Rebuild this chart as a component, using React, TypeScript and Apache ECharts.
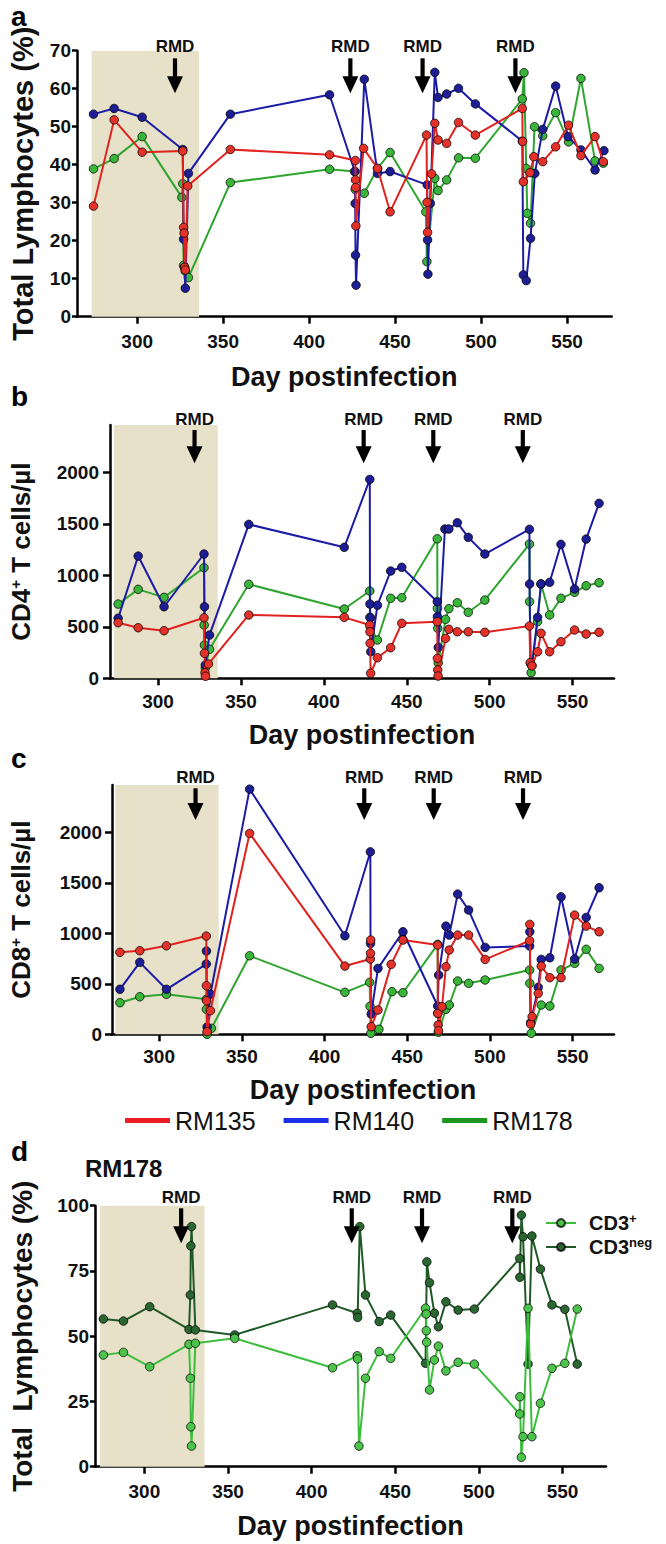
import React, { useEffect, useRef } from "react";
import * as echarts from "echarts";

type Pt = [number, number];

const FONT = "'Liberation Sans', Arial, Helvetica, sans-serif";

// ---------- tick values / annotations ----------
const xTickDays = [300, 350, 400, 450, 500, 550];
const cellTicks = [0, 500, 1000, 1500, 2000];
const rmdDays = [322, 424, 466, 520];
const shadeDays = [273.5, 336];
const animalNames = ["RM135", "RM140", "RM178"];
const cd3Names = ["CD3+", "CD3neg"];

// ---------- panel a: Total lymphocytes (%) ----------
const aRM135: Pt[] = [
  [274.6, 29.1], [286.6, 51.8], [302.9, 43.3], [326.5, 43.6], [327, 23.5], [327.3, 22], [327.6, 13], [328, 12.3],
  [329.4, 34.4], [354.2, 44], [411.9, 42.6], [426.9, 41.1], [427, 36], [427.1, 34], [427.2, 23.9], [431.7, 44.3],
  [439.8, 39], [447.1, 27.6], [468.3, 47.8], [468.6, 30.1], [468.9, 22.2], [471.2, 37.6], [473.1, 50.9], [475, 46.5],
  [480, 45.6], [486.9, 51.1], [496.7, 47.8], [524, 54.8], [524.2, 46.1], [524.6, 35.5], [528.5, 37.9], [530.7, 42.1],
  [535.9, 40.8], [543.4, 44.7], [550.9, 50.4], [558.1, 42.4], [566.3, 47.4], [571.1, 40.8],
];
const aRM140: Pt[] = [
  [274.6, 53.3], [286.6, 54.8], [302.9, 52.5], [326.5, 44], [327, 20.4], [327.5, 13], [328, 7.5], [329.8, 37.7],
  [354.2, 53.3], [411.9, 58.4], [426.6, 38.2], [426.8, 29.8], [427, 16.2], [427.3, 8.3], [432.1, 62.5], [439.8, 37.7],
  [447.1, 38.2], [468.7, 34.7], [468.9, 20.2], [469.1, 11.2], [470.5, 29.8], [473.1, 64.3], [475, 57.7], [480, 58.6],
  [486.9, 60.1], [496.7, 56], [524, 46.2], [524.6, 11], [526.3, 9.5], [528.8, 20.6], [531.3, 37.7], [535.9, 49.3],
  [543.4, 60.7], [550.6, 47.4], [558.1, 43.9], [566.3, 38.6], [571.5, 43.7],
];
const aRM178: Pt[] = [
  [274.6, 38.9], [286.6, 41.6], [302.9, 47.4], [326, 31.4], [326.5, 35], [327, 13.5], [328, 12], [329.8, 10.3],
  [354.2, 35.3], [411.9, 38.8], [426.6, 38.2], [426.8, 33.5], [432.1, 32.5], [439.8, 39], [447.1, 43.2], [467.9, 27.6],
  [468.5, 14.5], [473.1, 36.4], [475, 33.2], [480, 36], [486.9, 41.8], [496.7, 41.7], [524, 57.3], [525, 64.2],
  [526.3, 39], [526.9, 27.2], [528.8, 24.6], [531.1, 50], [535.9, 47.6], [543.4, 53.7], [550.9, 46], [558.1, 62.7],
  [566.3, 41], [571.1, 40.4],
];

// ---------- panel b: CD4+ T cells/ul ----------
const bRM135: Pt[] = [
  [275.9, 540], [288, 491], [303.6, 462], [327.7, 588], [328, 243], [328.3, 54], [328.6, 20], [330.4, 139],
  [354.7, 615], [412.3, 592], [427.7, 517], [427.8, 452], [427.9, 340], [428.2, 49], [432.3, 200], [440.3, 297],
  [447, 534], [468.4, 550], [468.5, 194], [468.7, 81], [468.9, 22], [473.4, 388], [475.4, 476], [480.5, 452],
  [487.1, 452], [497.1, 447], [524, 508], [524.5, 152], [525.5, 120], [528.9, 258], [531, 437], [536.2, 258],
  [543, 355], [551.2, 469], [558.2, 430], [566, 447],
];
const bRM140: Pt[] = [
  [275.9, 583], [288, 1187], [303.6, 695], [327.7, 1207], [328, 695], [328.5, 129], [331, 420], [354.7, 1495],
  [412.3, 1272], [427.7, 1932], [427.8, 721], [428, 588], [428.3, 258], [432.3, 709], [440.3, 1042], [447, 1078],
  [468.4, 744], [468.5, 598], [469, 300], [473, 1450], [475.4, 1450], [480.5, 1511], [487.1, 1369], [497.1, 1207],
  [524, 1447], [524.1, 916], [524.6, 146], [525.5, 125], [528.9, 592], [531, 916], [536.2, 932], [543, 1301],
  [551.2, 867], [558.2, 1352], [566, 1699],
];
const bRM178: Pt[] = [
  [275.9, 721], [288, 864], [303.6, 786], [327.7, 1074], [327.8, 517], [328, 323], [328.5, 100], [331, 282],
  [354.7, 913], [412.3, 673], [427.7, 848], [427.8, 592], [428, 500], [432.3, 372], [440.3, 777], [447, 783],
  [468.4, 1355], [468.5, 680], [468.7, 485], [469, 150], [473.4, 573], [475.4, 676], [480.5, 734], [487.1, 641],
  [497.1, 760], [524, 1304], [524.1, 744], [525, 54], [528.9, 550], [531, 916], [536.2, 615], [543, 777],
  [551.2, 835], [558.2, 899], [566, 928],
];

// ---------- panel c: CD8+ T cells/ul ----------
const cRM135: Pt[] = [
  [276.3, 812], [288.3, 828], [304.4, 877], [328.5, 973], [328.6, 481], [328.7, 333], [329, 26], [331, 234],
  [354.7, 1990], [412.3, 676], [427.7, 746], [427.8, 802], [427.9, 934], [428.2, 75], [432.3, 241], [440.3, 693],
  [447.4, 934], [468.4, 884], [468.5, 208], [468.7, 92], [468.9, 36], [471, 273], [473.4, 670], [475.4, 835],
  [480.5, 983], [487.1, 983], [497.1, 742], [524, 927], [524.1, 1089], [524.6, 102], [525.5, 175], [529.2, 406],
  [531, 676], [536.2, 561], [543, 561], [551.2, 1181], [558.2, 1072], [566, 1016],
];
const cRM140: Pt[] = [
  [276.3, 446], [288.3, 713], [304.4, 446], [328.5, 696], [328.6, 825], [329, 72], [331, 399], [354.7, 2429],
  [412.3, 976], [427.7, 1808], [427.8, 900], [428.2, 201], [432.3, 653], [447.4, 1016], [468.4, 280], [469, 587],
  [473.4, 1072], [475.4, 983], [480.5, 1389], [487.1, 1231], [497.1, 861], [524, 874], [524.1, 1016], [524.6, 115],
  [529.2, 465], [531, 742], [536.2, 758], [543, 1362], [551.2, 746], [558.2, 1158], [566, 1452],
];
const cRM178: Pt[] = [
  [276.3, 313], [288.3, 372], [304.4, 396], [328.5, 347], [328.6, 248], [329, 0], [331.6, 59], [354.7, 778],
  [412.3, 416], [427.3, 515], [427.5, 277], [428, 10], [432.9, 50], [440.8, 422], [447.4, 412], [468.4, 891],
  [468.5, 208], [468.8, 20], [473.4, 248], [475.4, 290], [480.5, 528], [487.1, 505], [497.1, 538], [524, 637],
  [524.1, 505], [525, 10], [531, 290], [536.2, 280], [543, 637], [551.2, 703], [558.2, 842], [566, 653],
];

// ---------- panel d: RM178 CD3+ / CD3neg (%) ----------
const dCD3pos: Pt[] = [
  [275.5, 42.8], [287.5, 43.8], [303.2, 38.3], [326.7, 46.9], [327.5, 33.9], [327.8, 15.3], [328.2, 7.9], [330.5, 47.3],
  [354, 49.2], [412.5, 37.9], [427.3, 42.5], [427.5, 41.3], [428.3, 7.9], [432.2, 33.9], [440.4, 44.1], [447.3, 41.5],
  [468.1, 60.7], [468.5, 58.5], [468.6, 52.1], [468.8, 47.7], [470.5, 29.4], [473.4, 40.9], [475.8, 46.2], [480.3, 36.7],
  [487.6, 40], [497.3, 39.3], [524.4, 20.2], [524.5, 26.8], [525.4, 3.6], [526.4, 11.5], [529.4, 60.7], [531.7, 11.5],
  [536.8, 24.3], [543.7, 37.7], [551.4, 39.6], [558.8, 60.4],
];
const dCD3neg: Pt[] = [
  [275.5, 56.6], [287.5, 55.8], [303.2, 61.3], [326.7, 52.6], [327.5, 65.8], [327.8, 84.6], [328.2, 92], [330.5, 52.4],
  [354, 50.5], [412.5, 62], [427.3, 58.8], [427.5, 57.2], [428.8, 92], [432.2, 65.8], [440.4, 55.6], [447.3, 58.1],
  [468.1, 39.6], [468.9, 78.5], [470.5, 70.5], [473.4, 58.8], [475.8, 53.6], [480.3, 63.2], [487.6, 60], [497.3, 60.4],
  [524.4, 79.8], [524.5, 72.6], [525.4, 96.4], [526.4, 88.1], [529.4, 39.3], [531.7, 88.4], [536.8, 75.7], [543.7, 62],
  [551.4, 60.3], [558.8, 39.3],
];

// ---------- layout ----------
const panels = [
  { left: 72.7, top: 50.7, width: 539, height: 266, xMin: 265, xMax: 576, yMax: 70, yInterval: 10, yTicks: null as number[] | null,
    yName: "Total Lymphocytes (%)", yNameSize: 29, yNameGap: 40, xNameGap: 47, yTickLen: 5, yLabelMargin: 6, xLabelMargin: 15,
    rmdTextY: 46.7, arrowY0: 58.3, arrowY1: 93.3, letter: "a", letterY: 16 },
  { left: 108.3, top: 425, width: 505.7, height: 253.3, xMin: 271, xMax: 575, yMax: 2460, yInterval: 500, yTicks: cellTicks,
    yName: "CD4{sup|+} T cells/µl", yNameSize: 26, yNameGap: 76, xNameGap: 43, yTickLen: 7, yLabelMargin: 11, xLabelMargin: 14,
    rmdTextY: 419.3, arrowY0: 430, arrowY1: 463.3, letter: "b", letterY: 396 },
  { left: 110, top: 785, width: 504, height: 249.3, xMin: 271.5, xMax: 575, yMax: 2470, yInterval: 500, yTicks: cellTicks,
    yName: "CD8{sup|+} T cells/µl", yNameSize: 26, yNameGap: 78, xNameGap: 42, yTickLen: 7, yLabelMargin: 10, xLabelMargin: 13,
    rmdTextY: 777.3, arrowY0: 788.3, arrowY1: 820, letter: "c", letterY: 758 },
  { left: 87.3, top: 1205.7, width: 518.7, height: 261, xMin: 270.5, xMax: 576, yMax: 100, yInterval: 25, yTicks: null as number[] | null,
    yName: "Total  Lymphocytes (%)", yNameSize: 28, yNameGap: 59, xNameGap: 46, yTickLen: 5, yLabelMargin: 6, xLabelMargin: 15,
    rmdTextY: 1197.3, arrowY0: 1208.3, arrowY1: 1243.3, letter: "d", letterY: 1151 },
];

const STYLE: Record<string, { line: string; fill: string; z: number }> = {
  RM135: { line: "#e0211d", fill: "#e4322b", z: 5 },
  RM140: { line: "#1b1ba8", fill: "#1d1d96", z: 4 },
  RM178: { line: "#2ea52e", fill: "#39b539", z: 3 },
  "CD3+": { line: "#3dbd3d", fill: "#4cc44c", z: 5 },
  CD3neg: { line: "#1f5a26", fill: "#2a6630", z: 4 },
};
const LEGEND_COLORS = ["#ec1c24", "#1c2fe8", "#1e961e"];

function lineSeries(name: string, data: Pt[], idx: number) {
  const s = STYLE[name];
  return {
    type: "line",
    name,
    data,
    xAxisIndex: idx,
    yAxisIndex: idx,
    symbol: "circle",
    symbolSize: 8.5,
    z: s.z,
    lineStyle: { color: s.line, width: 2 },
    itemStyle: { color: s.fill, borderColor: "rgba(0,0,0,0.75)", borderWidth: 1 },
    emphasis: { disabled: true },
  };
}

export default function App() {
  const ref = useRef<HTMLDivElement>(null);

  useEffect(() => {
    if (!ref.current) return;
    const chart = echarts.init(ref.current, null, { renderer: "svg" });

    const axisLineStyle = { color: "#000", width: 2.5 };
    const supRich = { sup: { fontSize: 15, fontWeight: "bold", fontFamily: FONT, color: "#111", verticalAlign: "top", lineHeight: 14 } };
    const plain = (v: number) => String(v);

    const grids = panels.map((p) => ({ left: p.left, top: p.top, width: p.width, height: p.height, containLabel: false }));

    const xAxes = panels.map((p, i) => ({
      type: "value",
      gridIndex: i,
      min: p.xMin,
      max: p.xMax,
      splitLine: { show: false },
      axisLine: { show: true, onZero: false, lineStyle: axisLineStyle },
      axisTick: { show: true, length: 7, customValues: xTickDays, lineStyle: { color: "#000", width: 2.5 } },
      axisLabel: { customValues: xTickDays, formatter: plain, fontSize: 19, fontWeight: "bold", color: "#111", fontFamily: FONT, margin: p.xLabelMargin },
      name: "Day postinfection",
      nameLocation: "middle",
      nameGap: p.xNameGap,
      nameTextStyle: { fontSize: 27, fontWeight: "bold", color: "#111", fontFamily: FONT },
    }));

    const yAxes = panels.map((p, i) => ({
      type: "value",
      gridIndex: i,
      min: 0,
      max: p.yMax,
      interval: p.yInterval,
      splitLine: { show: false },
      axisLine: { show: true, onZero: false, lineStyle: axisLineStyle },
      axisTick: { show: true, length: p.yTickLen, lineStyle: { color: "#000", width: 2.5 }, ...(p.yTicks ? { customValues: p.yTicks } : {}) },
      axisLabel: { formatter: plain, fontSize: 19, fontWeight: "bold", color: "#111", fontFamily: FONT, margin: p.yLabelMargin, ...(p.yTicks ? { customValues: p.yTicks } : {}) },
      name: p.yName,
      nameLocation: "middle",
      nameGap: p.yNameGap,
      nameTextStyle: { fontSize: p.yNameSize, fontWeight: "bold", color: "#111", fontFamily: FONT, rich: supRich },
    }));

    const shadeSeries = panels.map((p, i) => ({
      type: "line",
      name: "shade" + i,
      data: [],
      xAxisIndex: i,
      yAxisIndex: i,
      silent: true,
      z: 1,
      markArea: {
        silent: true,
        itemStyle: { color: "#e7e1c9" },
        data: [[{ xAxis: shadeDays[0], yAxis: 0 }, { xAxis: shadeDays[1], yAxis: p.yMax }]],
      },
    }));

    const series: any[] = [
      ...shadeSeries,
      lineSeries("RM178", aRM178, 0), lineSeries("RM140", aRM140, 0), lineSeries("RM135", aRM135, 0),
      lineSeries("RM178", bRM178, 1), lineSeries("RM140", bRM140, 1), lineSeries("RM135", bRM135, 1),
      lineSeries("RM178", cRM178, 2), lineSeries("RM140", cRM140, 2), lineSeries("RM135", cRM135, 2),
      lineSeries("CD3neg", dCD3neg, 3), lineSeries("CD3+", dCD3pos, 3),
    ];

    chart.setOption({
      animation: false,
      backgroundColor: "#fff",
      textStyle: { fontFamily: FONT },
      grid: grids,
      xAxis: xAxes,
      yAxis: yAxes,
      legend: [
        {
          data: animalNames.map((n, k) => ({ name: n, icon: "rect", itemStyle: { color: LEGEND_COLORS[k], borderWidth: 0 } })),
          left: 120,
          top: 1103,
          itemWidth: 45,
          itemHeight: 5,
          itemGap: 28,
          selectedMode: false,
          textStyle: { fontSize: 25, color: "#111", fontFamily: FONT },
        },
        {
          data: cd3Names,
          orient: "vertical",
          left: 540,
          top: 1207,
          itemWidth: 30,
          itemHeight: 10,
          itemGap: 2,
          selectedMode: false,
          formatter: (n: string) => (n === "CD3+" ? "CD3{sup|+}" : "CD3{sup|neg}"),
          textStyle: {
            fontSize: 20, fontWeight: "bold", color: "#111", fontFamily: FONT, lineHeight: 22, padding: [0, 0, 0, 8],
            rich: { sup: { fontSize: 13, fontWeight: "bold", color: "#111", fontFamily: FONT, verticalAlign: "top", lineHeight: 12 } },
          },
        },
      ],
      series,
    });

    const graphics: any[] = [];
    panels.forEach((p, i) => {
      graphics.push({
        type: "text", x: 11, y: p.letterY, z: 100,
        style: { text: p.letter, fontSize: 28, fontWeight: "bold", fontFamily: FONT, fill: "#000", align: "left", verticalAlign: "middle" },
      });
      rmdDays.forEach((d) => {
        const x = chart.convertToPixel({ xAxisIndex: i }, d) as number;
        graphics.push({
          type: "text", x, y: p.rmdTextY, z: 100,
          style: { text: "RMD", fontSize: 17, fontWeight: "bold", fontFamily: FONT, fill: "#111", align: "center", verticalAlign: "middle" },
        });
        graphics.push({
          type: "line", z: 100,
          shape: { x1: x, y1: p.arrowY0, x2: x, y2: p.arrowY1 - 14 },
          style: { stroke: "#000", lineWidth: 4.2 },
        });
        graphics.push({
          type: "polygon", z: 100,
          shape: { points: [[x - 8, p.arrowY1 - 17], [x + 8, p.arrowY1 - 17], [x, p.arrowY1]] },
          style: { fill: "#000" },
        });
      });
    });
    graphics.push({
      type: "text", x: 85, y: 1168, z: 100,
      style: { text: "RM178", fontSize: 24, fontWeight: "bold", fontFamily: FONT, fill: "#111", align: "left", verticalAlign: "middle" },
    });
    chart.setOption({ graphic: graphics });

    return () => chart.dispose();
  }, []);

  return <div ref={ref} style={{ position: "absolute", left: 0, top: 0, width: 666, height: 1544, background: "#fff" }} />;
}
